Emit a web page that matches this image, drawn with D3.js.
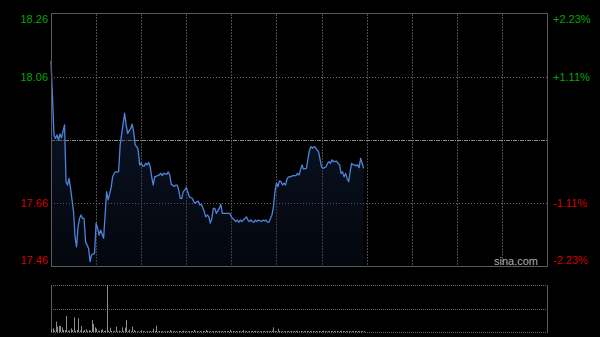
<!DOCTYPE html>
<html>
<head>
<meta charset="utf-8">
<script src="https://cdn.jsdelivr.net/npm/d3@7"></script>
<style>
  html, body { margin: 0; padding: 0; background: #000; }
  svg { display: block; }
  text { font-family: "Liberation Sans", Arial, sans-serif; }
</style>
</head>
<body>
<svg width="600" height="337"></svg>
<script>
// session minutes from 9:30 (lunch break removed), HK session = 330 min
var minutes = [0, 2, 3, 4, 5, 6, 7, 9, 10, 11, 12, 13, 15, 16, 17, 18, 19, 20, 21, 22,
  23, 25, 26, 27, 29, 30, 31, 32, 33, 35, 37, 38, 40, 41, 42, 43, 45, 46, 48, 49,
  50, 51, 53, 54, 55, 56, 57, 58, 59, 60, 61, 62, 63, 64, 65, 66, 67, 68, 69, 71,
  72, 73, 74, 75, 77, 78, 79, 80, 81, 82, 83, 84, 85, 86, 87, 88, 89, 90, 92, 93,
  94, 95, 96, 97, 98, 99, 100, 102, 103, 104, 105, 106, 107, 108, 109, 110, 112, 113, 114, 115,
  117, 119, 120, 122, 123, 124, 125, 126, 127, 128, 130, 131, 132, 133, 134, 135, 136, 137, 138, 140,
  141, 142, 143, 144, 145, 146, 147, 148, 149, 150, 151, 152, 153, 154, 155, 156, 157, 158, 159, 161,
  162, 163, 164, 165, 166, 167, 168, 170, 171, 172, 173, 174, 175, 176, 177, 178, 180, 181, 182, 183,
  184, 185, 186, 187, 188, 190, 191, 192, 193, 194, 195, 196, 197, 198, 199, 200, 201, 202, 203, 204,
  205, 206, 207, 208];
var prices = [18.111, 17.876, 17.865, 17.876, 17.860, 17.879, 17.867, 17.908, 17.728, 17.717,
  17.738, 17.707, 17.632, 17.553, 17.521, 17.585, 17.611, 17.622, 17.611, 17.611,
  17.537, 17.516, 17.474, 17.495, 17.501, 17.596, 17.581, 17.558, 17.574, 17.548,
  17.696, 17.670, 17.708, 17.743, 17.754, 17.759, 17.759, 17.844, 17.913, 17.945,
  17.908, 17.881, 17.897, 17.910, 17.886, 17.844, 17.839, 17.828, 17.781, 17.786,
  17.777, 17.777, 17.786, 17.781, 17.789, 17.775, 17.743, 17.717, 17.743, 17.747,
  17.749, 17.754, 17.747, 17.754, 17.751, 17.759, 17.749, 17.719, 17.717, 17.712,
  17.717, 17.717, 17.701, 17.675, 17.675, 17.696, 17.701, 17.709, 17.680, 17.677,
  17.675, 17.664, 17.659, 17.664, 17.666, 17.654, 17.656, 17.632, 17.616, 17.622,
  17.616, 17.596, 17.611, 17.643, 17.643, 17.627, 17.643, 17.656, 17.627, 17.627,
  17.627, 17.627, 17.616, 17.606, 17.601, 17.606, 17.599, 17.606, 17.601, 17.606,
  17.616, 17.606, 17.601, 17.606, 17.601, 17.599, 17.606, 17.601, 17.606, 17.601,
  17.606, 17.603, 17.606, 17.599, 17.599, 17.611, 17.622, 17.648, 17.696, 17.723,
  17.712, 17.730, 17.728, 17.717, 17.723, 17.717, 17.736, 17.743, 17.743, 17.747,
  17.747, 17.747, 17.754, 17.749, 17.765, 17.781, 17.768, 17.770, 17.802, 17.828,
  17.839, 17.834, 17.839, 17.836, 17.828, 17.823, 17.775, 17.770, 17.772, 17.775,
  17.786, 17.791, 17.786, 17.797, 17.791, 17.793, 17.786, 17.781, 17.754, 17.759,
  17.743, 17.754, 17.738, 17.728, 17.759, 17.786, 17.781, 17.781, 17.778, 17.781,
  17.772, 17.802, 17.786, 17.770];

// volume per minute, minute 0 .. 208
var volumes = [60, 73, 30, 207, 107, 120, 120, 93, 40, 40,
  320, 27, 30, 73, 40, 293, 25, 40, 273, 30,
  120, 25, 40, 53, 20, 40, 25, 240, 160, 93,
  67, 25, 20, 40, 53, 20, 30, 940, 25, 87,
  20, 15, 25, 107, 15, 27, 15, 93, 20, 87,
  240, 20, 53, 15, 107, 40, 15, 13, 10, 15,
  33, 20, 15, 10, 20, 15, 20, 15, 67, 20,
  127, 15, 20, 15, 20, 10, 15, 20, 15, 40,
  20, 15, 20, 15, 10, 20, 15, 20, 25, 15,
  20, 15, 20, 15, 20, 40, 15, 20, 15, 20,
  15, 20, 15, 40, 20, 15, 20, 15, 20, 15,
  20, 15, 20, 15, 20, 15, 20, 15, 20, 40,
  15, 20, 15, 20, 15, 20, 15, 20, 40, 15,
  20, 15, 20, 15, 20, 15, 20, 15, 20, 15,
  20, 15, 20, 15, 20, 15, 20, 25, 93, 20,
  15, 67, 20, 15, 20, 15, 20, 15, 20, 15,
  20, 15, 20, 25, 20, 15, 20, 15, 20, 15,
  20, 15, 20, 15, 20, 15, 20, 15, 20, 15,
  20, 25, 20, 15, 20, 15, 20, 15, 20, 15,
  20, 15, 20, 25, 20, 15, 20, 15, 20, 15,
  20, 15, 20, 15, 20, 15, 20, 15, 20];

var prevClose = 17.86;
var priceTicks = [18.26, 18.06, 17.86, 17.66, 17.46];
var priceLabels = ["18.26", "18.06", "", "17.66", "17.46"];
var pctLabels = ["+2.23%", "+1.11%", "", "-1.11%", "-2.23%"];
var totalMinutes = 330;
var gridMinutes = [30, 60, 90, 120, 150, 180, 210, 240, 270, 300];

function main() {
  var svg = d3.select('svg');
  var left = 51, right = 547, top = 14, bottom = 266;
  var vTop = 285, vBottom = 332;

  var x = d3.scaleLinear().domain([0, totalMinutes]).range([left, right]);
  var y = d3.scaleLinear().domain([17.46, 18.26]).range([bottom, top]);
  var yv = d3.scaleLinear().domain([0, d3.max(volumes)]).range([vBottom, vTop]);

  var green = '#00a800', red = '#d40000';

  // gradient for area
  var defs = svg.append('defs');
  var grad = defs.append('linearGradient').attr('id', 'ag')
    .attr('x1', 0).attr('y1', 0).attr('x2', 0).attr('y2', 1);
  grad.append('stop').attr('offset', '0%').attr('stop-color', '#1e3a6e').attr('stop-opacity', 0.45);
  grad.append('stop').attr('offset', '100%').attr('stop-color', '#0e1a33').attr('stop-opacity', 0.25);

  var pts = minutes.map(function(m, i) { return {m: m, p: prices[i]}; });

  // vertical grid
  svg.append('g').selectAll('line').data(gridMinutes).enter().append('line')
    .attr('x1', function(d) { return Math.round(x(d)) + 0.5; })
    .attr('x2', function(d) { return Math.round(x(d)) + 0.5; })
    .attr('y1', top).attr('y2', bottom)
    .attr('stroke', '#4a4a4a').attr('stroke-width', 1)
    .attr('stroke-dasharray', '2,1');

  // horizontal grid
  svg.append('g').selectAll('line').data([18.06, 17.66]).enter().append('line')
    .attr('x1', left).attr('x2', right)
    .attr('y1', function(d) { return Math.round(y(d)) + 0.5; })
    .attr('y2', function(d) { return Math.round(y(d)) + 0.5; })
    .attr('stroke', '#6a6a6a').attr('stroke-width', 1)
    .attr('stroke-dasharray', '1,2');

  // previous close line
  svg.append('line')
    .attr('x1', left).attr('x2', right)
    .attr('y1', Math.round(y(prevClose)) + 0.5).attr('y2', Math.round(y(prevClose)) + 0.5)
    .attr('stroke', '#8a8a8a').attr('stroke-width', 1)
    .attr('stroke-dasharray', '4,1,1,1');

  // area + line
  var area = d3.area()
    .x(function(d) { return x(d.m); })
    .y0(bottom)
    .y1(function(d) { return y(d.p); });
  svg.append('path').datum(pts).attr('d', area).attr('fill', 'url(#ag)');

  var line = d3.line()
    .x(function(d) { return x(d.m); })
    .y(function(d) { return y(d.p); });
  svg.append('path').datum(pts).attr('d', line)
    .attr('fill', 'none').attr('stroke', '#4f83dc').attr('stroke-width', 1.3)
    .attr('stroke-linejoin', 'round');

  // frame
  svg.append('rect')
    .attr('x', left + 0.5).attr('y', top - 0.5)
    .attr('width', right - left).attr('height', bottom - top + 1)
    .attr('fill', 'none').attr('stroke', '#5a5a5a').attr('stroke-width', 1);

  // left labels
  svg.append('g').selectAll('text').data(priceTicks).enter().append('text')
    .attr('x', 48)
    .attr('y', function(d, i) {
      var yy = y(d);
      if (i === 0) yy += 5;
      if (i === priceTicks.length - 1) yy -= 6;
      return yy + 4;
    })
    .attr('text-anchor', 'end')
    .attr('font-size', 11)
    .attr('fill', function(d) { return d >= prevClose ? green : red; })
    .text(function(d, i) { return priceLabels[i]; });

  // right labels
  svg.append('g').selectAll('text').data(priceTicks).enter().append('text')
    .attr('x', 553)
    .attr('y', function(d, i) {
      var yy = y(d);
      if (i === 0) yy += 5;
      if (i === priceTicks.length - 1) yy -= 6;
      return yy + 4;
    })
    .attr('text-anchor', 'start')
    .attr('font-size', 11)
    .attr('fill', function(d) { return d >= prevClose ? green : red; })
    .text(function(d, i) { return pctLabels[i]; });

  svg.append('text')
    .attr('x', 538).attr('y', 265)
    .attr('text-anchor', 'end')
    .attr('font-size', 11)
    .attr('fill', '#b0b0b0')
    .text('sina.com');

  // volume panel
  svg.append('g').selectAll('line').data([vTop, (vTop + vBottom) / 2, vBottom]).enter().append('line')
    .attr('x1', left).attr('x2', right)
    .attr('y1', function(d) { return Math.round(d) + 0.5; })
    .attr('y2', function(d) { return Math.round(d) + 0.5; })
    .attr('stroke', '#6a6a6a').attr('stroke-width', 1)
    .attr('stroke-dasharray', '1,1');

  svg.append('g').selectAll('line').data([left, right]).enter().append('line')
    .attr('x1', function(d) { return d + 0.5; })
    .attr('x2', function(d) { return d + 0.5; })
    .attr('y1', vTop).attr('y2', vBottom + 1)
    .attr('stroke', '#5a5a5a').attr('stroke-width', 1);

  svg.append('g').selectAll('line').data(volumes).enter().append('line')
    .attr('x1', function(d, i) { return Math.round(x(i)) + 0.5; })
    .attr('x2', function(d, i) { return Math.round(x(i)) + 0.5; })
    .attr('y1', vBottom)
    .attr('y2', function(d) { return yv(d); })
    .attr('stroke', '#8c8c8c').attr('stroke-width', 1);
}
main();
</script>
</body>
</html>
